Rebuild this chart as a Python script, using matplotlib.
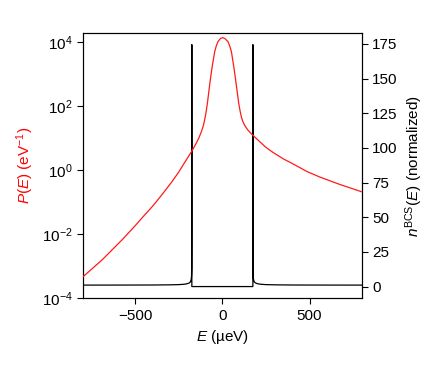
import matplotlib
matplotlib.use("Agg")
import matplotlib.pyplot as plt
from matplotlib.ticker import NullLocator

plt.rcParams['font.family'] = ['Liberation Sans', 'DejaVu Sans']
plt.rcParams['mathtext.fontset'] = 'custom'
plt.rcParams['mathtext.rm'] = 'Liberation Sans'
plt.rcParams['mathtext.it'] = 'Liberation Sans:italic'
plt.rcParams['mathtext.bf'] = 'Liberation Sans:bold'
plt.rcParams['font.size'] = 11

# P(E) curve (E in µeV, log10 of P in eV^-1)
E_p = [-800, -690, -575, -500, -460, -400, -345, -290, -250, -216, -187, -170, -149, -135,
       -121, -110, -102, -94, -86, -73, -60, -44, -35, -25, -10, 3, 15, 32, 42, 52, 67, 80,
       94, 102, 109, 118, 128, 145, 167, 214, 250, 291, 350, 420, 483, 560, 674, 800]
logP = [-3.33, -2.80, -2.17, -1.73, -1.48, -1.12, -0.75, -0.36, -0.05, 0.25, 0.50, 0.65, 0.86, 1.01,
        1.20, 1.38, 1.57, 1.80, 2.09, 2.67, 3.19, 3.71, 3.89, 4.03, 4.13, 4.15, 4.12, 4.03, 3.89, 3.71, 3.19, 2.67,
        2.09, 1.85, 1.67, 1.52, 1.41, 1.27, 1.14, 0.90, 0.72, 0.56, 0.36, 0.16, -0.03, -0.21, -0.44, -0.67]
P_vals = [10 ** v for v in logP]

# BCS density of states (normalized)
E_n = [-800, -600, -400, -300, -250, -220, -200, -190, -183, -179, -177, -175.5, -175.05, -175.0, -174.95,
       174.95, 175.0, 175.05, 175.5, 177, 179, 183, 190, 200, 220, 250, 300, 400, 600, 800]
n_vals = [1.05, 1.07, 1.12, 1.25, 1.40, 1.65, 2.1, 2.6, 3.4, 5.0, 7.0, 13.0, 40.0, 174.5, 0.0,
          0.0, 174.5, 40.0, 13.0, 7.0, 5.0, 3.4, 2.6, 2.1, 1.65, 1.40, 1.25, 1.12, 1.07, 1.05]

fig = plt.figure(figsize=(4.36, 3.82), dpi=100)
ax1 = fig.add_axes([0.190, 0.219, 0.640, 0.695])
ax2 = ax1.twinx()

ax1.plot(E_p, P_vals, color='#ff1a1a', lw=0.9, zorder=3, solid_joinstyle='round')
ax1.set_yscale('log')
ax1.set_ylim(1e-4, 2e4)
ax1.set_xlim(-800, 800)
ax1.set_yticks([1e-4, 1e-2, 1e0, 1e2, 1e4])
ax1.yaxis.set_minor_locator(NullLocator())
ax1.set_xticks([-500, 0, 500])
ax1.set_ylabel(r'$P(E)$ (eV$^{-1}$)', color='red')
ax1.set_xlabel(r'$E$ (µeV)')

ax2.plot(E_n, n_vals, color='black', lw=0.9)
ax2.set_ylim(-8.5, 183)
ax2.set_yticks([0, 25, 50, 75, 100, 125, 150, 175])
ax2.set_ylabel(r'$n^{\rm BCS}(E)$ (normalized)')

for ax in (ax1, ax2):
    ax.tick_params(direction='out', length=4, width=0.8)
ax1.set_zorder(ax2.get_zorder() + 1)
ax1.patch.set_visible(False)

fig.savefig('out.png', dpi=100)
